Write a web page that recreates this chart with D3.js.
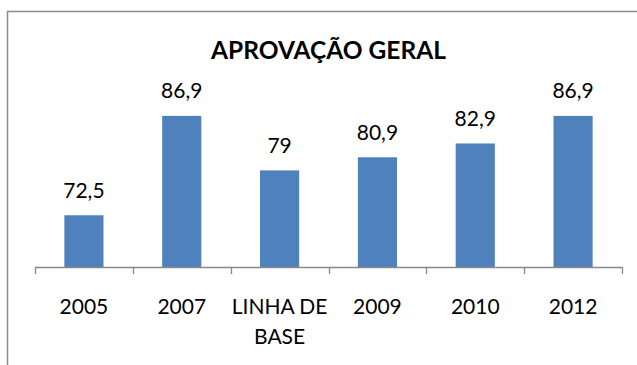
<!DOCTYPE html>
<html>
<head>
<meta charset="utf-8">
<script src="https://cdn.jsdelivr.net/npm/d3@7"></script>
<style>
  html, body { margin: 0; padding: 0; background: #fff; }
  svg { display: block; font-family: Lato, "Open Sans", sans-serif; }
</style>
</head>
<body>
<svg id="chart" width="637" height="365"></svg>
<script>
// Approval rates by survey round
const categories = ["2005", "2007", "LINHA DE\nBASE", "2009", "2010", "2012"];
const values = [72.5, 86.9, 79, 80.9, 82.9, 86.9];
const yDomain = [65, 90];
const title = "APROVAÇÃO GERAL";

const svg = d3.select("#chart");
const plot = { left: 35, right: 622, top: 94.5, bottom: 267 };

// Chart frame (extends past the window on the right and bottom)
svg.append("rect")
  .attr("x", 7.5).attr("y", 11.5)
  .attr("width", 700).attr("height", 500)
  .attr("fill", "#fff")
  .attr("stroke", "#8c8c8c")
  .attr("stroke-width", 1.5);

// Title
svg.append("text")
  .attr("x", (plot.left + plot.right) / 2)
  .attr("y", 59)
  .attr("text-anchor", "middle")
  .attr("font-weight", "bold")
  .attr("font-size", 24.5)
  .attr("fill", "#000")
  .text(title);

const xCat = d3.scaleBand().domain(categories).range([plot.left, plot.right]).padding(0);
const xBar = d3.scaleBand().domain(categories).range([plot.left, plot.right])
  .paddingInner(0.6).paddingOuter(0.3);
const y = d3.scaleLinear().domain(yDomain).range([plot.bottom, plot.top]);

const pt = d3.formatLocale({ decimal: ",", thousands: ".", grouping: [3], currency: ["", ""] });
const fmt = v => Number.isInteger(v) ? String(v) : pt.format(".1f")(v);

// Bars
svg.append("g").selectAll("rect")
  .data(values)
  .join("rect")
  .attr("x", (d, i) => xBar(categories[i]))
  .attr("width", xBar.bandwidth())
  .attr("y", d => y(d))
  .attr("height", d => plot.bottom - y(d))
  .attr("fill", "#4F81BD");

// Value labels
svg.append("g").selectAll("text")
  .data(values)
  .join("text")
  .attr("x", (d, i) => xBar(categories[i]) + xBar.bandwidth() / 2)
  .attr("y", d => y(d) - 17.5)
  .attr("text-anchor", "middle")
  .attr("font-size", 21)
  .attr("fill", "#000")
  .text(d => fmt(d));

// Category axis with ticks on the category boundaries
const axisG = svg.append("g");
axisG.append("line")
  .attr("x1", plot.left).attr("x2", plot.right)
  .attr("y1", plot.bottom + 0.5).attr("y2", plot.bottom + 0.5)
  .attr("stroke", "#898989").attr("stroke-width", 1.3);
const boundaries = categories.map(c => xCat(c)).concat([plot.right]);
axisG.selectAll("line.tick")
  .data(boundaries)
  .join("line")
  .attr("class", "tick")
  .attr("x1", d => Math.round(d) + 0.5).attr("x2", d => Math.round(d) + 0.5)
  .attr("y1", plot.bottom).attr("y2", plot.bottom + 7)
  .attr("stroke", "#898989").attr("stroke-width", 1.3);

// Category labels (multi-line where needed)
const labels = axisG.selectAll("text.cat")
  .data(categories)
  .join("text")
  .attr("class", "cat")
  .attr("x", d => xCat(d) + xCat.bandwidth() / 2)
  .attr("y", 314)
  .attr("text-anchor", "middle")
  .attr("font-size", 21)
  .attr("fill", "#000");
labels.each(function(d) {
  const t = d3.select(this);
  d.split("\n").forEach((line, i) => {
    t.append("tspan")
      .attr("x", xCat(d) + xCat.bandwidth() / 2)
      .attr("dy", i === 0 ? 0 : 29.5)
      .text(line);
  });
});
</script>
</body>
</html>
